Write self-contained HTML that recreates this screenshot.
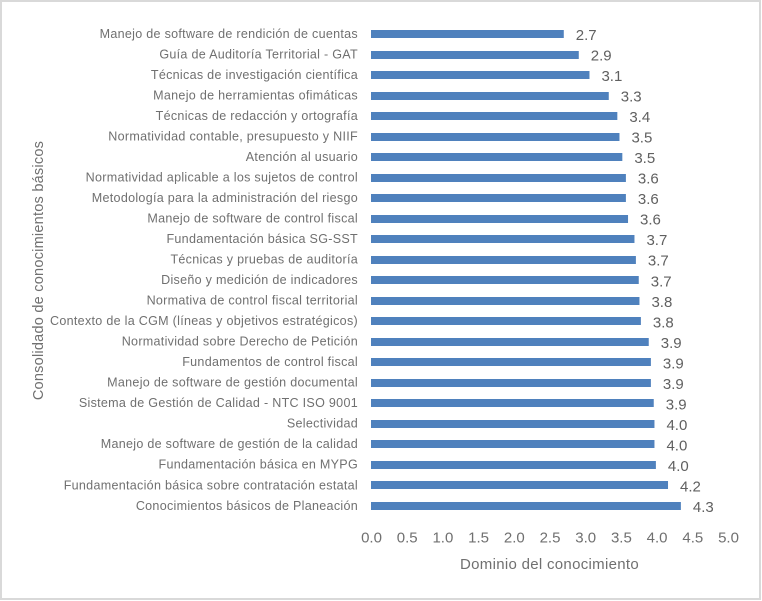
<!DOCTYPE html>
<html lang="es">
<head>
<meta charset="utf-8">
<title>Consolidado de conocimientos básicos</title>
<style>
html,body{margin:0;padding:0;background:#fff;}
body{width:762px;height:601px;overflow:hidden;}
svg{display:block;font-family:"Liberation Sans",sans-serif;}
</style>
</head>
<body>
<svg id="chart" xmlns="http://www.w3.org/2000/svg" width="762" height="601" viewBox="0 0 762 601">
<rect x="1" y="1" width="759" height="598" fill="#ffffff" stroke="#d9d9d9" stroke-width="2"></rect>
<text transform="translate(43,270.5) rotate(-90)" text-anchor="middle" font-size="14.5" letter-spacing="0.24" fill="#707070">Consolidado de conocimientos básicos</text>
<text x="549.5" y="569" text-anchor="middle" font-size="15" letter-spacing="0.3" fill="#707070">Dominio del conocimiento</text>
</svg>
<script>
const categories = [
  "Manejo de software de rendición de cuentas",
  "Guía de Auditoría Territorial - GAT",
  "Técnicas de investigación científica",
  "Manejo de herramientas ofimáticas ",
  "Técnicas de redacción y ortografía",
  "Normatividad contable, presupuesto y NIIF",
  "Atención al usuario",
  "Normatividad aplicable a los sujetos de control",
  "Metodología para la administración del riesgo",
  "Manejo de software de control fiscal",
  "Fundamentación básica SG-SST",
  "Técnicas y pruebas de auditoría",
  "Diseño y medición de indicadores",
  "Normativa de control fiscal territorial",
  "Contexto de la CGM (líneas y objetivos estratégicos)",
  "Normatividad sobre Derecho de Petición",
  "Fundamentos de control fiscal",
  "Manejo de software de gestión documental",
  "Sistema de Gestión de Calidad - NTC ISO 9001",
  "Selectividad",
  "Manejo de software de gestión de la calidad",
  "Fundamentación básica en MYPG",
  "Fundamentación básica sobre contratación estatal",
  "Conocimientos básicos de Planeación"
];
const values = [2.70,2.91,3.06,3.33,3.45,3.48,3.52,3.57,3.57,3.60,3.69,3.71,3.75,3.76,3.78,3.89,3.92,3.92,3.96,3.97,3.97,3.99,4.16,4.34];
const valueLabels = ["2.7","2.9","3.1","3.3","3.4","3.5","3.5","3.6","3.6","3.6","3.7","3.7","3.7","3.8","3.8","3.9","3.9","3.9","3.9","4.0","4.0","4.0","4.2","4.3"];
const xTicks = [0,0.5,1,1.5,2,2.5,3,3.5,4,4.5,5];
const xTickLabels = ["0.0","0.5","1.0","1.5","2.0","2.5","3.0","3.5","4.0","4.5","5.0"];

const svg = document.getElementById('chart');
const NS = 'http://www.w3.org/2000/svg';
const plot = {left:371, right:728, top:23.74, bottom:516.24};
function xScale(v){ return plot.left + (v / xTicks[xTicks.length-1]) * (plot.right - plot.left); }
function yScale(i){ return plot.top + (i + 0.5) * (plot.bottom - plot.top) / categories.length; }
function make(tag, attrs, text){
  const el = document.createElementNS(NS, tag);
  for (const k in attrs) el.setAttribute(k, attrs[k]);
  if (text !== undefined) el.textContent = text;
  svg.appendChild(el);
  return el;
}
categories.forEach(function(name, i){
  const y = yScale(i);
  const label = make('text', {x:358, y:y+3.8, 'text-anchor':'end', 'font-size':12.55, 'letter-spacing':0.29, fill:'#707070', 'xml:space':'preserve'}, name);
  
  
  const bar = make('rect', {x:xScale(0), y:Math.round(y-4), width:xScale(values[i])-xScale(0), height:8, fill:'#4f81bd'});
  
  
  const val = make('text', {x:xScale(values[i])+12, y:y+6, 'font-size':15, fill:'#606060'}, valueLabels[i]);
  
  
});
xTicks.forEach(function(t, i){
  const tick = make('text', {x:xScale(t)+0.5, y:542.5, 'text-anchor':'middle', 'font-size':15, fill:'#707070'}, xTickLabels[i]);
  
  
});
</script>
</body>
</html>
